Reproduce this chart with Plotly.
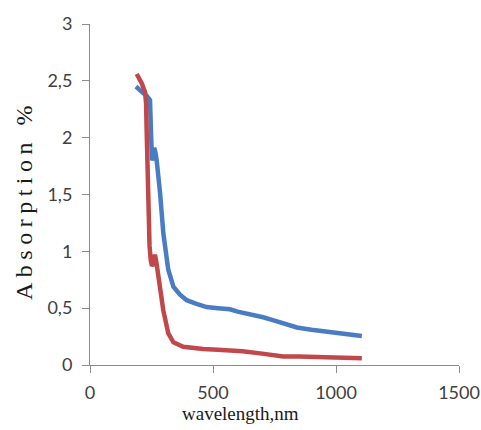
import plotly.graph_objects as go

# Blue series (wavelength nm, absorption)
blue_x = [187, 200, 217, 230, 237, 244, 248, 252, 256, 261, 266, 271, 285, 298, 318, 339, 365, 393, 430, 474, 520, 569, 600, 650, 704, 750, 800, 841, 900, 950, 1000, 1050, 1105]
blue_y = [2.45, 2.42, 2.39, 2.37, 2.35, 2.33, 2.05, 1.80, 1.84, 1.91, 1.87, 1.80, 1.51, 1.16, 0.84, 0.69, 0.62, 0.57, 0.54, 0.51, 0.50, 0.49, 0.47, 0.45, 0.42, 0.39, 0.36, 0.33, 0.31, 0.295, 0.28, 0.27, 0.255]

# Red series
red_x = [190, 200, 210, 224, 228, 230, 233, 237, 242, 247, 252, 258, 264, 270, 278, 298, 318, 339, 379, 420, 460, 520, 569, 620, 700, 785, 850, 950, 1050, 1105]
red_y = [2.56, 2.52, 2.48, 2.40, 2.30, 2.09, 1.75, 1.36, 1.05, 0.92, 0.87, 0.90, 0.97, 0.90, 0.77, 0.48, 0.28, 0.20, 0.16, 0.145, 0.14, 0.135, 0.13, 0.12, 0.10, 0.075, 0.075, 0.07, 0.065, 0.06]

x_ticks = [0, 500, 1000, 1500]
y_ticks = [0, 0.5, 1, 1.5, 2, 2.5, 3]

BLUE = "#4a7cc4"
RED = "#c0484a"
AXIS = "#8c8c8c"

fig = go.Figure()
fig.add_trace(go.Scatter(x=blue_x, y=blue_y, mode="lines",
                         line=dict(color=BLUE, width=4.5), showlegend=False))
fig.add_trace(go.Scatter(x=red_x, y=red_y, mode="lines",
                         line=dict(color=RED, width=4.5), showlegend=False))

tickfont = dict(family="Lato, Liberation Sans, sans-serif", size=18, color="#404040")

fig.update_layout(
    width=481, height=430,
    margin=dict(l=90, r=22, t=24, b=65, autoexpand=False),
    paper_bgcolor="white", plot_bgcolor="white",
    separators=", ",
    xaxis=dict(range=[0, 1500], tickvals=x_ticks, showgrid=False, zeroline=False,
               showline=True, linecolor=AXIS, linewidth=1, automargin=False,
               ticks="outside", ticklen=7, tickcolor=AXIS, ticklabelstandoff=4,
               tickfont=tickfont),
    yaxis=dict(range=[0, 3], tickvals=y_ticks, showgrid=False, zeroline=False,
               showline=True, linecolor=AXIS, linewidth=1, automargin=False,
               ticks="outside", ticklen=7, tickcolor=AXIS, ticklabelstandoff=6,
               tickfont=tickfont),
    annotations=[
        dict(text="wavelength,nm", x=(240 - 90) / 369, y=-(413 - 365) / (365 - 24),
             xref="paper", yref="paper",
             showarrow=False, font=dict(family="Liberation Serif, serif", size=19, color="#1a1a1a"),
             xanchor="center", yanchor="middle"),
        dict(text='<span style="letter-spacing:5.5px">Absorption %</span>',
             x=0, y=(365 - 200) / (365 - 24), xref="paper", yref="paper", xshift=-66, textangle=-90,
             showarrow=False, font=dict(family="Liberation Serif, serif", size=24, color="#1a1a1a"),
             xanchor="center", yanchor="middle"),
    ],
)

fig.write_html(
    "out.html",
    config={"displayModeBar": False, "responsive": False},
    post_script="document.body.style.margin='0';document.body.style.overflow='hidden';"
                "document.documentElement.style.overflow='hidden';",
)
